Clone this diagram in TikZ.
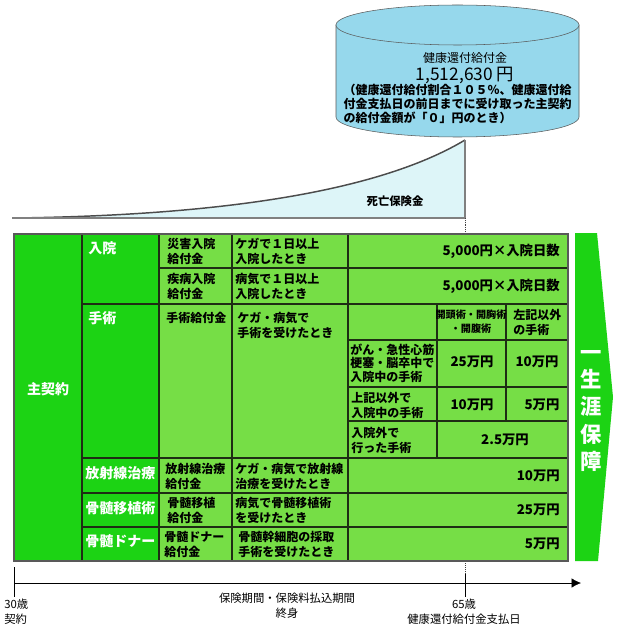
\documentclass[tikz,border=0pt]{standalone}
\usepackage{fontspec}
\setmainfont{Noto Sans CJK JP}
\usetikzlibrary{arrows.meta}
\definecolor{darkgreen}{RGB}{28,211,20}
\definecolor{lightgreen}{RGB}{118,222,70}
\definecolor{cylblue}{RGB}{150,216,236}
\definecolor{paleblue}{RGB}{221,245,248}
\definecolor{gridline}{RGB}{30,45,20}

\begin{document}
\begin{tikzpicture}[x=0.75pt,y=-0.75pt,
    grid/.style={draw=gridline, line width=0.8pt},
    head/.style={font=\fontsize{10.5}{13}\selectfont\bfseries, text=white, inner sep=0pt},
    cell/.style={font=\fontsize{9}{11.2}\selectfont\bfseries, align=left, anchor=west, inner sep=0pt},
    amount/.style={font=\fontsize{10}{12}\selectfont\bfseries, inner sep=0pt},
    small/.style={font=\fontsize{7.6}{10.5}\selectfont\bfseries, align=center, inner sep=0pt},
    note/.style={font=\fontsize{8.5}{11}\selectfont, align=center, inner sep=0pt}
    ]
    \useasboundingbox[fill=white] (0,0) rectangle (620,627);

    \draw[draw=gray!70!black, fill=cylblue] (336,25) -- (336,117)
        arc[start angle=180, end angle=0, x radius=121.5, y radius=20] -- (579,25) -- cycle;
    \draw[draw=gray!70!black, fill=cylblue] (457.5,25) ellipse [x radius=121.5, y radius=20];
    \node[font=\fontsize{9}{11}\selectfont] (kanpu) at (465,58) {健康還付給付金};
    \node[font=\fontsize{13}{14}\selectfont] (kingaku) at (465,75) {1,512,630 円};
    \node[font=\fontsize{9}{10.5}\selectfont\bfseries, align=left, inner sep=0pt] (joken) at (457.5,104)
        {（健康還付給付割合１０５％、健康還付給\\付金支払日の前日までに受け取った主契約\\の給付金額が「０」円のとき）};

    \fill[paleblue] (15,218) .. controls (250,215) and (390,185) .. (465,140) -- (465,218) -- cycle;
    \draw[gray!60!black, line width=1.1pt] (15,218) .. controls (250,215) and (390,185) .. (465,140);
    \draw[gray, line width=1pt] (12,218) -- (465,218) -- (465,140);
    \draw[densely dotted, gray!50!black] (465,218) -- (465,583);
    \node[font=\fontsize{8.5}{10}\selectfont\bfseries] (shibou) at (395,201) {死亡保険金};

    \fill[darkgreen] (14,234) rectangle (159,561);
    \fill[lightgreen] (159,234) rectangle (568,561);
    \draw[grid] (82,234) -- (82,561);
    \draw[grid] (159,234) -- (159,561);
    \draw[grid] (232,234) -- (232,561);
    \draw[grid] (348,234) -- (348,561);
    \draw[grid] (159,268) -- (568,268);
    \draw[grid] (82,304) -- (568,304);
    \draw[grid] (82,458) -- (568,458);
    \draw[grid] (82,493) -- (568,493);
    \draw[grid] (82,527) -- (568,527);
    \draw[grid] (348,340) -- (568,340);
    \draw[grid] (348,387) -- (568,387);
    \draw[grid] (348,421) -- (568,421);
    \draw[grid] (437,304) -- (437,458);
    \draw[grid] (506,304) -- (506,421);
    \draw[draw=gray!70!black, line width=1.2pt] (14,234) rectangle (568,561);

    \node[head] (shu) at (48,389) {主契約};
    \node[head, anchor=west] (nyuin) at (88,248) {入院};
    \node[head, anchor=west] (shujutsu) at (88,318) {手術};
    \node[head, anchor=west] (hoshasen) at (85,473) {放射線治療};
    \node[head, anchor=west] (ishoku) at (85,508) {骨髄移植術};
    \node[head, anchor=west] (donor) at (85,541) {骨髄ドナー};

    \node[cell] (saigai) at (167,251) {災害入院\\給付金};
    \node[cell] (shippei) at (167,286) {疾病入院\\給付金};
    \node[cell] (shujutsukyufu) at (166,318) {手術給付金};
    \node[cell] (hoshakyufu) at (165,476) {放射線治療\\給付金};
    \node[cell] (ishokukyufu) at (167,510) {骨髄移植\\給付金};
    \node[cell] (donorkyufu) at (164,544) {骨髄ドナー\\給付金};

    \node[cell] (kega) at (235,251) {ケガで１日以上\\入院したとき};
    \node[cell] (byoki) at (235,286) {病気で１日以上\\入院したとき};
    \node[cell] (kegabyoki) at (237,325) {ケガ・病気で\\手術を受けたとき};
    \node[cell] (hoshajoken) at (235,476) {ケガ・病気で放射線\\治療を受けたとき};
    \node[cell] (ishokujoken) at (235,510) {病気で骨髄移植術\\を受けたとき};
    \node[cell] (saishu) at (238,544) {骨髄幹細胞の採取\\手術を受けたとき};

    \node[small] (kaito) at (471,322) {開頭術・開胸術\\・開腹術};
    \node[cell] (sonota) at (513,322) {左記以外\\の手術};
    \node[cell, font=\fontsize{9}{10.2}\selectfont\bfseries] (gan) at (350,363) {がん・急性心筋\\梗塞・脳卒中で\\入院中の手術};
    \node[cell] (joki) at (351,405) {上記以外で\\入院中の手術};
    \node[cell] (gaigai) at (351,440) {入院外で\\行った手術};

    \node[amount, anchor=east] (nichigaku1) at (560,251) {5,000円×入院日数};
    \node[amount, anchor=east] (nichigaku2) at (560,286) {5,000円×入院日数};
    \node[amount] (gan25) at (472,362) {25万円};
    \node[amount] (gan10) at (537,362) {10万円};
    \node[amount] (joki10) at (472,405) {10万円};
    \node[amount] (joki5) at (542,405) {5万円};
    \node[amount] (gai25) at (505,440) {2.5万円};
    \node[amount, anchor=east] (hoshagaku) at (560,476) {10万円};
    \node[amount, anchor=east] (ishokugaku) at (560,510) {25万円};
    \node[amount, anchor=east] (donorgaku) at (560,544) {5万円};

    \fill[darkgreen] (575,233) -- (597,233) -- (613,397) -- (598,561) -- (575,561) -- cycle;
    \node[font=\fontsize{16}{20.5}\selectfont\bfseries, text=white, align=center, inner sep=0pt] (shogai) at (591,411) {一\\生\\涯\\保\\障};

    \coordinate (t0) at (14,583);
    \coordinate (t1) at (581,583);
    \draw[-{Latex[length=7pt,width=7pt]}] (t0) -- (t1);
    \draw (14,567) -- (14,597);
    \draw (465,574) -- (465,597);
    \node[note, align=left, anchor=west] (keiyaku) at (4,612) {30歳\\契約};
    \node[note] (kikan) at (287,606) {保険期間・保険料払込期間\\終身};
    \node[note] (shiharai) at (464,612) {65歳\\健康還付給付金支払日};
\end{tikzpicture}
\end{document}
